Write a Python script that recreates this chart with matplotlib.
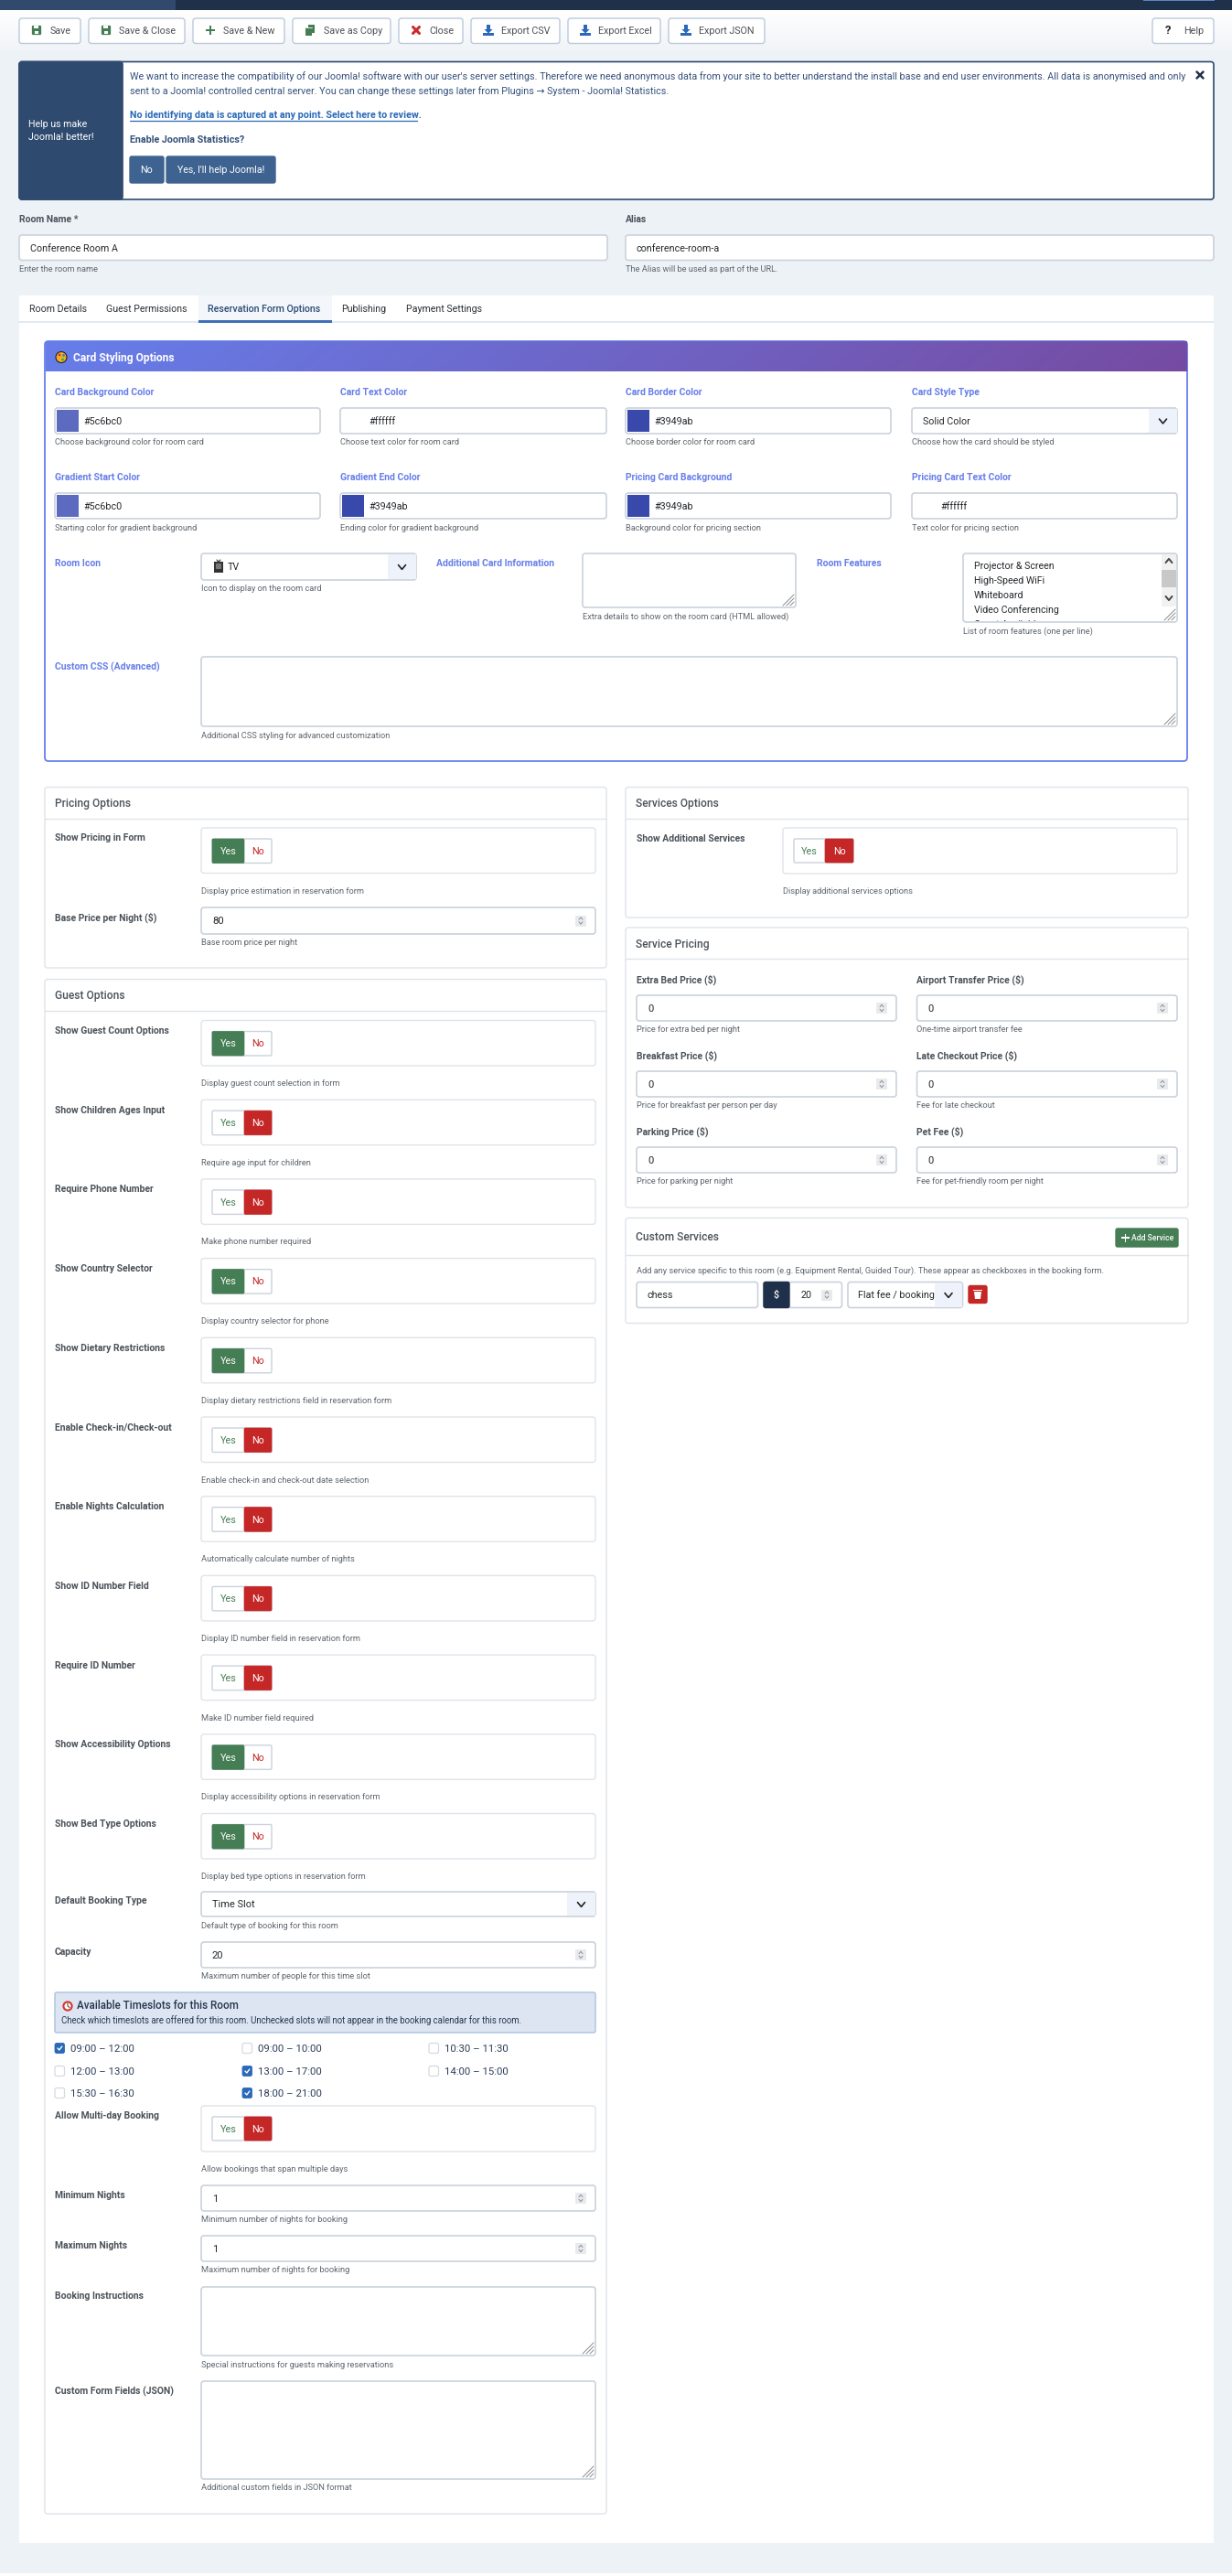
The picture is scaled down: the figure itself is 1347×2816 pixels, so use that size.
#!/usr/bin/env python

import matplotlib

matplotlib.use('Agg')

import numpy as np
import matplotlib.pyplot as plt
from matplotlib.colors import LinearSegmentedColormap
from matplotlib.patches import FancyBboxPatch, Rectangle, Circle, Polygon

plt.rcParams['font.family'] = ['Roboto', 'DejaVu Sans']

# page text and values
toolbar_labels = ['Save', 'Save & Close', 'Save & New', 'Save as Copy', 'Close',
                  'Export CSV', 'Export Excel', 'Export JSON']
toolbar_icons = ['save', 'save', 'plus', 'copy', 'x', 'down', 'down', 'down']
stats_lines = [
    "We want to increase the compatibility of our Joomla! software with our user's server settings. Therefore we need anonymous data from your site to better understand the install base and end user environments. All data is anonymised and only",
    "sent to a Joomla! controlled central server. You can change these settings later from Plugins \u2192 System - Joomla! Statistics.",
]
tab_labels = ['Room Details', 'Guest Permissions', 'Reservation Form Options', 'Publishing', 'Payment Settings']

card_labels = ['Card Background Color', 'Card Text Color', 'Card Border Color', 'Card Style Type',
               'Gradient Start Color', 'Gradient End Color', 'Pricing Card Background', 'Pricing Card Text Color']
card_values = ['#5c6bc0', '#ffffff', '#3949ab', 'Solid Color',
               '#5c6bc0', '#3949ab', '#3949ab', '#ffffff']
card_hints = ['Choose background color for room card', 'Choose text color for room card',
              'Choose border color for room card', 'Choose how the card should be styled',
              'Starting color for gradient background', 'Ending color for gradient background',
              'Background color for pricing section', 'Text color for pricing section']
room_features = ['Projector & Screen', 'High-Speed WiFi', 'Whiteboard', 'Video Conferencing']

guest_labels = ['Show Guest Count Options', 'Show Children Ages Input', 'Require Phone Number',
                'Show Country Selector', 'Show Dietary Restrictions', 'Enable Check-in/Check-out',
                'Enable Nights Calculation', 'Show ID Number Field', 'Require ID Number',
                'Show Accessibility Options', 'Show Bed Type Options']
guest_hints = ['Display guest count selection in form', 'Require age input for children',
               'Make phone number required', 'Display country selector for phone',
               'Display dietary restrictions field in reservation form',
               'Enable check-in and check-out date selection', 'Automatically calculate number of nights',
               'Display ID number field in reservation form', 'Make ID number field required',
               'Display accessibility options in reservation form', 'Display bed type options in reservation form']
guest_states = [1, 0, 0, 1, 1, 0, 0, 0, 0, 1, 1]

slot_labels = ['09:00 \u2013 12:00', '09:00 \u2013 10:00', '10:30 \u2013 11:30',
               '12:00 \u2013 13:00', '13:00 \u2013 17:00', '14:00 \u2013 15:00',
               '15:30 \u2013 16:30', '18:00 \u2013 21:00']
slot_checked = [1, 0, 0, 0, 1, 0, 0, 1]

service_labels = ['Extra Bed Price ($)', 'Airport Transfer Price ($)', 'Breakfast Price ($)',
                  'Late Checkout Price ($)', 'Parking Price ($)', 'Pet Fee ($)']
service_values = [0, 0, 0, 0, 0, 0]
service_hints = ['Price for extra bed per night', 'One-time airport transfer fee',
                 'Price for breakfast per person per day', 'Fee for late checkout',
                 'Price for parking per night', 'Fee for pet-friendly room per night']

PAGE = '#edf2f7'
BORDER = '#cbd2dc'
SOFT = '#dfe4ea'
LABEL = '#4a5159'
HINT = '#5f666e'
INK = '#24282c'
NAVY = '#2e4a6f'
DARK = '#1f304a'
BLUE = '#2a69b8'
GREEN = '#457d54'
RED = '#c52626'
CARD = '#667eea'

fig = plt.figure(figsize=(13.47, 28.16), dpi=100, facecolor=PAGE)
ax = fig.add_axes([0, 0, 1, 1])
ax.set_axis_off()


def box(x0, y0, x1, y1, fc='white', ec=BORDER, lw=1.0, r=3, z=2):
    ax.add_patch(FancyBboxPatch((x0, y0), x1 - x0, y1 - y0, boxstyle='round,pad=0,rounding_size=%s' % r,
                                fc=fc, ec=ec, lw=lw, zorder=z))


def rect(x0, y0, x1, y1, fc, z=3):
    ax.add_patch(Rectangle((x0, y0), x1 - x0, y1 - y0, fc=fc, ec='none', zorder=z))


def txt(x, y, s, px=10.5, c=INK, w='normal', ha='left', z=6):
    # y is the middle of the lower case letters
    return ax.text(x, y + 0.33 * px, s, fontsize=px * 0.72, color=c, fontweight=w, ha=ha, va='baseline', zorder=z)


def line(xs, ys, c, lw=1.0, z=5):
    ax.plot(xs, ys, color=c, lw=lw, zorder=z, solid_capstyle='round', solid_joinstyle='round')


def chevron(x, y, c='#222222', s=4, up=False, lw=1.2, z=8):
    d = -s * 0.6 if up else s * 0.6
    line([x - s, x, x + s], [y - d, y + d, y - d], c, lw, z)


def resizer(x1, y1):
    for k in (4, 8, 12):
        line([x1 - 2 - k, x1 - 2], [y1 - 2, y1 - 2 - k], '#8a8a8a', 0.7)


def field(x0, y0, x1, y1, lw=1.2):
    box(x0, y0, x1, y1, ec=BORDER, lw=lw)


def spinner(x, y):
    rect(x, y - 6, x + 12, y + 6, '#e8eaee', 6)
    chevron(x + 6, y - 2.5, '#8a8f96', 2, up=True, lw=0.7)
    chevron(x + 6, y + 2.5, '#8a8f96', 2, lw=0.7)


def number_field(x0, y0, x1, y1, value):
    field(x0, y0, x1, y1)
    ym = (y0 + y1) / 2
    txt(x0 + 12, ym, str(value), 11.2)
    spinner(x1 - 22, ym)


def select(x0, y0, x1, y1, value, arrow_w=31, px=10.8):
    field(x0, y0, x1, y1)
    ym = (y0 + y1) / 2
    rect(x1 - arrow_w, y0 + 1, x1 - 0.5, y1 - 1, '#eef3fb', 3)
    chevron(x1 - arrow_w / 2, ym + 0.5, '#222222', 4)
    if value:
        txt(x0 + 12, ym, value, px)


def toggle(x0, x1, x2, y0, y1, on):
    box(x0, y0, x2, y1, fc='white', ec=BORDER, lw=1.0, r=1.5, z=3)
    if on:
        box(x0, y0, x1, y1, fc=GREEN, ec=GREEN, lw=0.5, r=1.5, z=4)
    else:
        box(x1, y0, x2, y1, fc=RED, ec=RED, lw=0.5, r=1.5, z=4)
    ym = (y0 + y1) / 2
    txt((x0 + x1) / 2, ym, 'Yes', 10.8, 'white' if on else GREEN, ha='center')
    txt((x1 + x2) / 2, ym, 'No', 10.8, RED if on else 'white', ha='center')


def switch_row(top, label, hint, on, lx, wx0, wx1, tx):
    txt(lx, top + 11, label, 10.4, LABEL, 'bold')
    box(wx0, top, wx1, top + 49.5, ec=SOFT, lw=1.0)
    toggle(tx, tx + 35, tx + 65, top + 12, top + 38.5, on)
    txt(wx0, top + 68.5, hint, 9.3, HINT)


def section(x0, y0, y_head, y1, x1, title):
    box(x0, y0, x1, y1, ec=SOFT, lw=1.0, z=2)
    line([x0, x1], [y_head, y_head], SOFT, 1.0, 3)
    txt(x0 + 11, (y0 + y_head) / 2 + 1, title, 12, LABEL, 'medium')


def icon(kind, x, y):
    if kind == 'save':
        box(x - 5, y - 5, x + 5, y + 5, fc=GREEN, ec=GREEN, lw=0.2, r=1, z=5)
        rect(x - 2.8, y - 5, x + 2.2, y - 1.8, 'white', 6)
        rect(x - 1.7, y + 1, x + 1.7, y + 3.6, 'white', 6)
    elif kind == 'plus':
        rect(x - 5, y - 1.3, x + 5, y + 1.3, GREEN, 5)
        rect(x - 1.3, y - 5, x + 1.3, y + 5, GREEN, 5)
    elif kind == 'copy':
        rect(x - 2, y - 6, x + 5, y + 3, GREEN, 5)
        rect(x - 5, y - 3, x + 2, y + 6, GREEN, 6)
        line([x - 5, x + 2], [y - 3, y - 3], 'white', 0.6, 6)
    elif kind == 'x':
        line([x - 3.5, x + 3.5], [y - 3.5, y + 3.5], '#cc2a2a', 2.2)
        line([x - 3.5, x + 3.5], [y + 3.5, y - 3.5], '#cc2a2a', 2.2)
    elif kind == 'down':
        rect(x - 1.6, y - 6, x + 1.6, y, BLUE, 5)
        ax.add_patch(Polygon([(x - 4.6, y - 1), (x + 4.6, y - 1), (x, y + 3.6)], fc=BLUE, ec='none', zorder=5))
        rect(x - 5.6, y + 3, x + 5.6, y + 6, BLUE, 5)


# page frame
rect(0, 0, 1347, 11, DARK, 1)
rect(0, 0, 192, 11, '#30496d', 2)
rect(1250, 0, 1328, 1, '#5b86c0', 2)
rect(0, 2813, 1347, 2816, 'white', 1)

# toolbar, white fading to the page colour
fade = LinearSegmentedColormap.from_list('fade', ['#ffffff', '#f0f4f8'])
ax.imshow(np.linspace(0, 1, 64).reshape(-1, 1), cmap=fade, extent=(0, 1347, 56, 11), aspect='auto', zorder=1)
button_x0 = [21, 97, 211, 320, 436, 515, 621, 731]
button_x1 = [88, 202, 311, 427, 506, 612, 722, 836]
for x0, x1, name, kind in zip(button_x0, button_x1, toolbar_labels, toolbar_icons):
    box(x0, 20, x1, 47.5, ec='#bcc9dc', lw=1.0)
    icon(kind, x0 + 19, 33)
    txt(x0 + 33.5, 33, name, 10.8, '#4a4f55')
box(1260, 20, 1327, 47.5, ec='#bcc9dc', lw=1.0)
txt(1277, 33, '?', 13, '#222222', 'bold', ha='center')
txt(1294, 33, 'Help', 10.8, '#4a4f55')

# statistics message
box(21, 67.5, 1327, 218, ec=NAVY, lw=1.2, r=3)
box(21, 67.5, 134, 218, fc=NAVY, ec=NAVY, lw=1.2, r=3, z=3)
rect(128, 68, 134, 218, NAVY, 3)
txt(31, 136, 'Help us make', 10.6, 'white')
txt(31, 150, 'Joomla! better!', 10.6, 'white')
txt(142, 83, stats_lines[0], 10.75, '#34507a')
txt(142, 99, stats_lines[1], 10.75, '#34507a')
txt(142, 125.5, 'No identifying data is captured at any point. Select here to review.', 10.75, BLUE, 'bold')
line([142, 456], [131.5, 131.5], BLUE, 0.9)
txt(142, 152, 'Enable Joomla Statistics?', 10.75, '#34507a', 'bold')
box(142, 171, 179, 200, fc='#3f6391', ec='#3f6391', r=2)
box(182, 171, 301, 200, fc='#3f6391', ec='#3f6391', r=2)
txt(160.5, 185.5, 'No', 10.6, 'white', ha='center')
txt(241.5, 185.5, "Yes, I'll help Joomla!", 10.6, 'white', ha='center')
line([1308.5, 1315.5], [78.5, 85.5], DARK, 1.8, 6)
line([1308.5, 1315.5], [85.5, 78.5], DARK, 1.8, 6)

# name and alias
txt(21, 240, 'Room Name *', 10.4, LABEL, 'bold')
txt(684, 240, 'Alias', 10.4, LABEL, 'bold')
field(21, 257, 664, 284.5)
field(684, 257, 1327, 284.5)
txt(33, 271, 'Conference Room A', 10.8)
txt(696, 271, 'conference-room-a', 10.8)
txt(21, 294, 'Enter the room name', 9.3, HINT)
txt(684, 294, 'The Alias will be used as part of the URL.', 9.3, HINT)

# main panel and tabs
rect(21, 323, 1327, 2780, 'white', 1)
rect(217, 323, 363, 350, '#f3f6fa', 2)
line([21, 1327], [352, 352], '#dde5ef', 1.2, 3)
rect(217, 349.5, 363, 352.5, '#3f70b8', 4)
tab_x = [32, 116.5, 227, 373, 444]
for i, (x, name) in enumerate(zip(tab_x, tab_labels)):
    if i == 2:
        txt(x, 337.5, name, 10.6, '#2a4a75', 'medium')
    else:
        txt(x, 337.5, name, 10.6, '#2b3036')

# card styling options
box(49, 373, 1298, 832, ec=CARD, lw=1.3, r=4)
xg, yg = np.meshgrid(np.linspace(0, 1, 300), np.linspace(0, 1, 20))
head_cmap = LinearSegmentedColormap.from_list('head', [CARD, '#764ba2'])
ax.imshow(xg * 0.97 + yg * 0.03, cmap=head_cmap, extent=(49.5, 1297.5, 406, 373.5), aspect='auto', zorder=3)
txt(80, 391, 'Card Styling Options', 12, 'white', 'bold')
ax.add_patch(Circle((67, 390.5), 6, fc='#f2b01e', ec='#222222', lw=0.8, zorder=5))
ax.add_patch(Circle((65, 388), 1.4, fc='#d9332e', ec='none', zorder=6))
ax.add_patch(Circle((69.5, 388.5), 1.4, fc='#3a7bd5', ec='none', zorder=6))
ax.add_patch(Circle((68.5, 393), 1.4, fc='#3aa655', ec='none', zorder=6))

col_x0 = [60, 372, 684, 997]
col_x1 = [350, 663, 974, 1287]
row_label_y = [429, 522]
row_field = [(446, 474), (539, 567)]
row_hint_y = [483, 577]
for i in range(8):
    r, c = i // 4, i % 4
    x0, x1 = col_x0[c], col_x1[c]
    y0, y1 = row_field[r]
    ym = (y0 + y1) / 2
    txt(x0, row_label_y[r], card_labels[i], 10.4, CARD, 'bold')
    txt(x0, row_hint_y[r], card_hints[i], 9.3, HINT)
    if card_labels[i] == 'Card Style Type':
        select(x0, y0, x1, y1, card_values[i])
        continue
    field(x0, y0, x1, y1)
    rect(x0 + 2, y0 + 2, x0 + 26, y1 - 2, card_values[i], 4)
    txt(x0 + 31, ym, card_values[i], 10.8)

txt(60, 616, 'Room Icon', 10.4, CARD, 'bold')
select(220, 605, 455, 634, '', arrow_w=31)
rect(234, 614, 244, 626, '#333333', 5)
rect(236, 616, 242, 622, '#777777', 6)
line([237, 239, 241], [612, 614, 612], '#333333', 0.8)
txt(249, 619.5, 'TV', 10.8)
txt(220, 643, 'Icon to display on the room card', 9.3, HINT)

txt(477, 616, 'Additional Card Information', 10.4, CARD, 'bold')
field(637, 605, 870, 664)
resizer(870, 664)
txt(637, 674, 'Extra details to show on the room card (HTML allowed)', 9.3, HINT)

txt(893, 616, 'Room Features', 10.4, CARD, 'bold')
field(1053, 605, 1287, 680)
for k, name in enumerate(room_features):
    txt(1065, 619 + 16 * k, name, 10.6)
# next list line is cut off by the bottom of the box
t = txt(1065, 683, 'Guest Available', 10.6)
t.set_clip_path(Rectangle((1053, 606), 217, 73, transform=ax.transData))
t.set_clip_on(True)
rect(1270, 606, 1286, 663, '#f1f1f1', 4)
rect(1270, 623, 1286, 642, '#c8c8c8', 5)
chevron(1278, 613, '#444444', 3.5, up=True, lw=1.4)
chevron(1278, 654, '#444444', 3.5, lw=1.4)
resizer(1287, 680)
txt(1053, 690, 'List of room features (one per line)', 9.3, HINT)

txt(60, 729, 'Custom CSS (Advanced)', 10.4, CARD, 'bold')
field(220, 718, 1287, 794)
resizer(1287, 794)
txt(220, 804, 'Additional CSS styling for advanced customization', 9.3, HINT)

# pricing options
section(49, 860.5, 894.5, 1058, 663, 'Pricing Options')
switch_row(905, 'Show Pricing in Form', 'Display price estimation in reservation form', 1, 60, 220, 651, 232)
txt(60, 1003, 'Base Price per Night ($)', 10.4, LABEL, 'bold')
number_field(220, 992, 651, 1021, 80)
txt(220, 1030, 'Base room price per night', 9.3, HINT)

# guest options
section(49, 1070.5, 1104.5, 2748, 663, 'Guest Options')
for i in range(len(guest_labels)):
    switch_row(1115.5 + 86.7 * i, guest_labels[i], guest_hints[i], guest_states[i], 60, 220, 651, 232)

txt(60, 2078, 'Default Booking Type', 10.4, LABEL, 'bold')
select(220, 2068, 651, 2095, 'Time Slot', arrow_w=31, px=11)
txt(220, 2105, 'Default type of booking for this room', 9.3, HINT)
txt(60, 2134, 'Capacity', 10.4, LABEL, 'bold')
number_field(220, 2123, 651, 2151, 20)
txt(220, 2160, 'Maximum number of people for this time slot', 9.3, HINT)

# timeslots
box(60, 2178, 651, 2222, fc='#dde5f2', ec='#a9c2e0', lw=1.0, r=2)
ax.add_patch(Circle((74, 2193), 4.6, fc='white', ec='#d9332e', lw=1.5, zorder=5))
line([74, 74, 76], [2190, 2193, 2194.5], '#333333', 0.7, 6)
txt(84, 2192, 'Available Timeslots for this Room', 11.6, '#25364f', 'medium')
txt(67, 2209, 'Check which timeslots are offered for this room. Unchecked slots will not appear in the booking calendar for this room.', 9.6, '#25364f')
slot_x = [60, 265, 469]
slot_y = [2239, 2264, 2288]
for i, name in enumerate(slot_labels):
    x, y = slot_x[i % 3], slot_y[i // 3]
    if slot_checked[i]:
        box(x, y - 5.5, x + 10.5, y + 5.5, fc=BLUE, ec=BLUE, lw=0.6, r=2, z=4)
        line([x + 3, x + 4.8, x + 7.8], [y, y + 2, y - 2], 'white', 1.0)
    else:
        box(x, y - 5.5, x + 10.5, y + 5.5, ec='#d5dae0', lw=0.9, r=2, z=4)
    txt(x + 17, y, name, 11.4, '#2c3e5a')

txt(60, 2313, 'Allow Multi-day Booking', 10.4, LABEL, 'bold')
box(220, 2302, 651, 2352, ec=SOFT, lw=1.0)
toggle(232, 267, 297, 2314, 2340, 0)
txt(220, 2371, 'Allow bookings that span multiple days', 9.3, HINT)

txt(60, 2400, 'Minimum Nights', 10.4, LABEL, 'bold')
number_field(220, 2389, 651, 2417, 1)
txt(220, 2426, 'Minimum number of nights for booking', 9.3, HINT)
txt(60, 2455, 'Maximum Nights', 10.4, LABEL, 'bold')
number_field(220, 2444, 651, 2472, 1)
txt(220, 2481, 'Maximum number of nights for booking', 9.3, HINT)

txt(60, 2510, 'Booking Instructions', 10.4, LABEL, 'bold')
field(220, 2500, 651, 2575)
resizer(651, 2575)
txt(220, 2585, 'Special instructions for guests making reservations', 9.3, HINT)
txt(60, 2614, 'Custom Form Fields (JSON)', 10.4, LABEL, 'bold')
field(220, 2603, 651, 2710)
resizer(651, 2710)
txt(220, 2719, 'Additional custom fields in JSON format', 9.3, HINT)

# right column
section(684, 860.5, 894.5, 1003, 1299, 'Services Options')
txt(696, 917, 'Show Additional Services', 10.4, LABEL, 'bold')
box(856, 905, 1287, 955, ec=SOFT, lw=1.0)
toggle(868, 902, 933, 917, 943, 0)
txt(856, 974, 'Display additional services options', 9.3, HINT)

section(684, 1014, 1048, 1320, 1299, 'Service Pricing')
svc_x0 = [696, 1002.5]
svc_x1 = [980, 1287]
svc_label_y = [1071, 1154, 1237]
svc_top = [1088, 1171, 1254]
svc_hint_y = [1125, 1208, 1291]
for i in range(6):
    r, c = i // 2, i % 2
    txt(svc_x0[c], svc_label_y[r], service_labels[i], 10.4, LABEL, 'bold')
    number_field(svc_x0[c], svc_top[r], svc_x1[c], svc_top[r] + 28, service_values[i])
    txt(svc_x0[c], svc_hint_y[r], service_hints[i], 9.3, HINT)

section(684, 1331.5, 1371.5, 1446.5, 1299, 'Custom Services')
box(1220, 1343, 1288, 1363, fc=GREEN, ec=GREEN, r=2)
rect(1226, 1352.2, 1235, 1353.8, 'white', 5)
rect(1229.7, 1348.5, 1231.3, 1357.5, 'white', 5)
txt(1237, 1353, 'Add Service', 8.6, 'white', 'medium')
txt(696, 1389, 'Add any service specific to this room (e.g. Equipment Rental, Guided Tour). These appear as checkboxes in the booking form.', 9.3, HINT)
field(696, 1401.5, 828.5, 1429.5)
txt(708, 1415.5, 'chess', 10.8)
field(835, 1401.5, 920.5, 1429.5)
box(835, 1401.5, 863, 1429.5, fc=DARK, ec=DARK, r=2, z=3)
txt(849, 1415.5, '$', 10.8, 'white', 'medium', ha='center')
txt(875.5, 1415.5, '20', 10.8)
spinner(898, 1415.5)
field(927, 1401.5, 1052.5, 1429.5)
txt(938.5, 1415.5, 'Flat fee / booking', 10.8)
rect(1022, 1402.5, 1052, 1428.5, '#eef3fb', 7)
chevron(1037, 1416, '#222222', 4, lw=1.2)
box(1059, 1405.5, 1079, 1424.5, fc=RED, ec=RED, r=2)
ax.add_patch(Polygon([(1065, 1412), (1073, 1412), (1072, 1420), (1066, 1420)], fc='white', ec='none', zorder=5))
rect(1064, 1409.5, 1074, 1411, 'white', 5)

ax.set_xlim(0, 1347)
ax.set_ylim(2816, 0)

fig.savefig('out.png', dpi=100, facecolor=PAGE)
